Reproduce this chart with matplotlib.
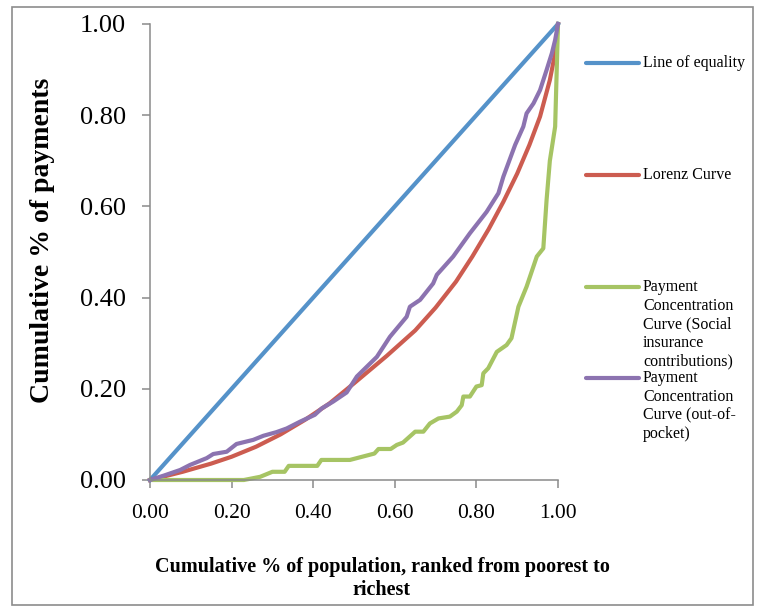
import matplotlib
matplotlib.use("Agg")
import matplotlib.pyplot as plt
from matplotlib.lines import Line2D
from matplotlib.patches import Rectangle

plt.rcParams['font.family'] = ['Liberation Serif', 'DejaVu Serif']

# cumulative share of population (x) and of payments (y)
equality_x = [0.0, 1.0]
equality_y = [0.0, 1.0]

lorenz_x = [0.0, 0.08, 0.15, 0.20, 0.26, 0.32, 0.38, 0.44, 0.50, 0.58, 0.65,
            0.70, 0.75, 0.79, 0.83, 0.866, 0.90, 0.93, 0.956, 0.98, 0.993, 1.0]
lorenz_y = [0.0, 0.018, 0.036, 0.051, 0.073, 0.100, 0.132, 0.168, 0.212, 0.272,
            0.328, 0.378, 0.435, 0.490, 0.550, 0.610, 0.672, 0.735, 0.797,
            0.877, 0.936, 1.0]

social_x = [0.0, 0.23, 0.27, 0.30, 0.33, 0.34, 0.41, 0.42, 0.49, 0.52, 0.55, 0.56,
            0.59, 0.605, 0.62, 0.65, 0.67, 0.686, 0.707, 0.735, 0.752, 0.764,
            0.768, 0.784, 0.80, 0.813, 0.817, 0.829, 0.85, 0.874, 0.886, 0.903,
            0.923, 0.948, 0.964, 0.972, 0.98, 0.993, 1.0]
social_y = [0.0, 0.0, 0.007, 0.018, 0.018, 0.031, 0.031, 0.044, 0.044, 0.051,
            0.058, 0.068, 0.068, 0.077, 0.082, 0.106, 0.106, 0.124, 0.135, 0.139,
            0.15, 0.164, 0.183, 0.183, 0.205, 0.208, 0.234, 0.245, 0.281, 0.296,
            0.311, 0.38, 0.424, 0.49, 0.508, 0.614, 0.70, 0.775, 1.0]

oop_x = [0.0, 0.035, 0.074, 0.098, 0.139, 0.155, 0.188, 0.212, 0.253, 0.278,
         0.31, 0.335, 0.368, 0.404, 0.421, 0.449, 0.482, 0.507, 0.556, 0.588,
         0.629, 0.637, 0.662, 0.694, 0.703, 0.743, 0.784, 0.825, 0.854, 0.866,
         0.878, 0.895, 0.915, 0.923, 0.94, 0.956, 0.972, 0.985, 0.993, 1.0]
oop_y = [0.0, 0.010, 0.022, 0.033, 0.048, 0.057, 0.062, 0.079, 0.088, 0.097,
         0.105, 0.113, 0.128, 0.143, 0.157, 0.172, 0.192, 0.227, 0.270, 0.314,
         0.358, 0.38, 0.395, 0.431, 0.450, 0.49, 0.541, 0.588, 0.629, 0.665,
         0.694, 0.735, 0.775, 0.804, 0.826, 0.855, 0.899, 0.936, 0.965, 1.0]

ticks = [0.0, 0.2, 0.4, 0.6, 0.8, 1.0]
tick_labels = ['0.00', '0.20', '0.40', '0.60', '0.80', '1.00']

series = [
    (equality_x, equality_y, '#5592C9', 'Line of equality'),
    (lorenz_x, lorenz_y, '#CC5C50', 'Lorenz Curve'),
    (social_x, social_y, '#A6C464',
     'Payment\nConcentration\nCurve (Social\ninsurance\ncontributions)'),
    (oop_x, oop_y, '#8C73B0', 'Payment\nConcentration\nCurve (out-of-\npocket)'),
]

W, H = 763, 610
fig = plt.figure(figsize=(W / 100, H / 100), dpi=100)
ax = fig.add_axes([150 / W, 130 / H, 408 / W, 456 / H])

for xs, ys, col, lab in series:
    ax.plot(xs, ys, color=col, lw=3.0, solid_joinstyle='round', clip_on=False)

ax.set_xlim(0, 1)
ax.set_ylim(0, 1)
ax.set_xticks(ticks)
ax.set_yticks(ticks)
ax.set_xticklabels(tick_labels, fontsize=15.5)
ax.set_yticklabels(tick_labels, fontsize=19)
for s in ['top', 'right']:
    ax.spines[s].set_visible(False)
for s in ['left', 'bottom']:
    ax.spines[s].set_color('#8a8a8a')
    ax.spines[s].set_linewidth(1.1)
ax.tick_params(axis='both', direction='out', length=5.5, width=1.1,
               color='#8a8a8a')
ax.tick_params(axis='y', pad=12)
ax.tick_params(axis='x', pad=12)

fig.text(43 / W, 1 - 240 / H, 'Cumulative % of payments', rotation=90,
         ha='center', va='center', fontsize=20, fontweight='bold')
fig.text(382 / W, 1 - 557 / H,
         'Cumulative % of population, ranked from poorest to\nrichest',
         ha='center', va='top', fontsize=14.5, fontweight='bold',
         linespacing=1.2)

# legend drawn by hand to keep Excel-like spacing
leg_y = [63, 175, 287, 378]
for (xs, ys, col, lab), yy in zip(series, leg_y):
    fy = 1 - yy / H
    fig.add_artist(Line2D([586 / W, 639 / W], [fy, fy], color=col, lw=3.0,
                          solid_capstyle='round'))
    fig.text(643 / W, 1 - (yy - 8) / H, lab, ha='left', va='top',
             fontsize=11.5, linespacing=1.22)

fig.add_artist(Rectangle((12 / W, 1 - 605 / H), 741 / W, 598 / H,
                         fill=False, edgecolor='#8c8c8c', lw=1.2,
                         transform=fig.transFigure))

fig.savefig('out.png', dpi=100)
